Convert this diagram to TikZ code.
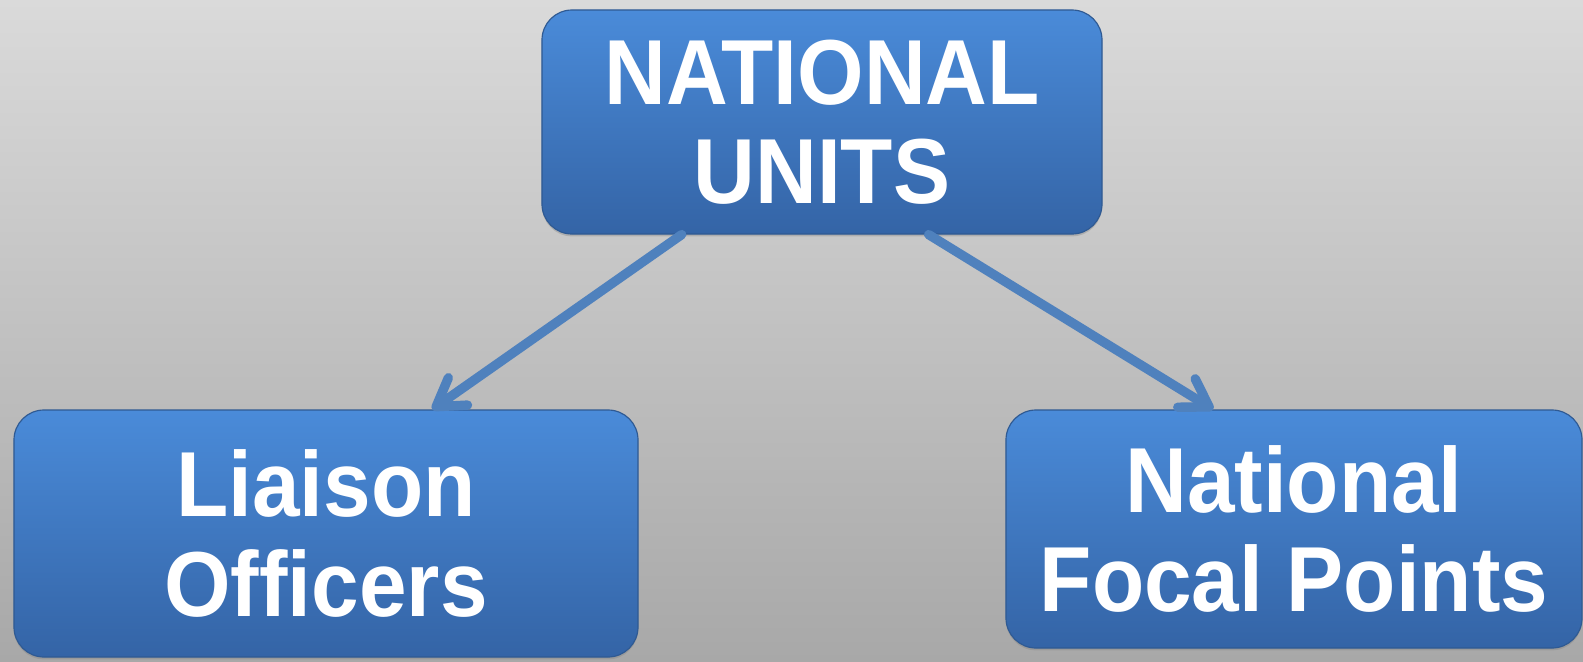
\documentclass[tikz,border=0pt]{standalone}
\usepackage{fontspec}
\usepackage{graphicx}
\setsansfont{Liberation Sans}
\usetikzlibrary{arrows.meta,calc,shadows}

\definecolor{boxtop}{HTML}{4A8BD9}
\definecolor{boxbot}{HTML}{3464A6}
\definecolor{boxline}{HTML}{2F5A93}
\definecolor{linkblue}{HTML}{4F81BD}
\definecolor{bgtop}{HTML}{DADADA}
\definecolor{bgbot}{HTML}{A8A8A8}

% slightly taller letters, as in the slide
\newcommand{\tallline}[1]{\scalebox{1}[1.08]{#1}}

\tikzset{
  unitbox/.style={rounded corners=0.9cm, top color=boxtop, bottom color=boxbot,
    draw=boxline, line width=1pt, text=white, align=center, inner sep=0pt,
    font=\fontsize{73}{85}\selectfont\sffamily\bfseries,
    drop shadow={opacity=0.35, shadow xshift=0pt, shadow yshift=-2pt}},
  link/.style={draw=linkblue, line width=8pt, line cap=round, line join=round,
    -{Straight Barb[round, length=0.8cm, width=1.0cm, line width=8pt]}}
}

\begin{document}
\begin{tikzpicture}[x=0.03cm, y=-0.03cm]
      \useasboundingbox (0,0) rectangle (1583,661);
      % background
      \shade[top color=bgtop, bottom color=bgbot] (0,0) rectangle (1583,661);
      % boxes
      \node[unitbox, minimum width=16.8cm, minimum height=6.72cm] (national) at (822,122)
        {\tallline{NATIONAL}\\\tallline{UNITS}};
      \node[unitbox, minimum width=18.72cm, minimum height=7.41cm] (liaison) at (326,533.5)
        {\tallline{Liaison}\\\tallline{Officers}};
      \node[unitbox, minimum width=17.28cm, minimum height=7.14cm] (focal) at (1294,529)
        {\tallline{National}\\\tallline{Focal Points}};
      % links
      \draw[link] ($(national.south west)!0.25!(national.south east)$) -- ($(liaison.north west)!0.67!(liaison.north east)$);
      \draw[link] ($(national.south west)!0.69!(national.south east)$) -- ($(focal.north west)!0.36!(focal.north east)$);
    \end{tikzpicture}
\end{document}
